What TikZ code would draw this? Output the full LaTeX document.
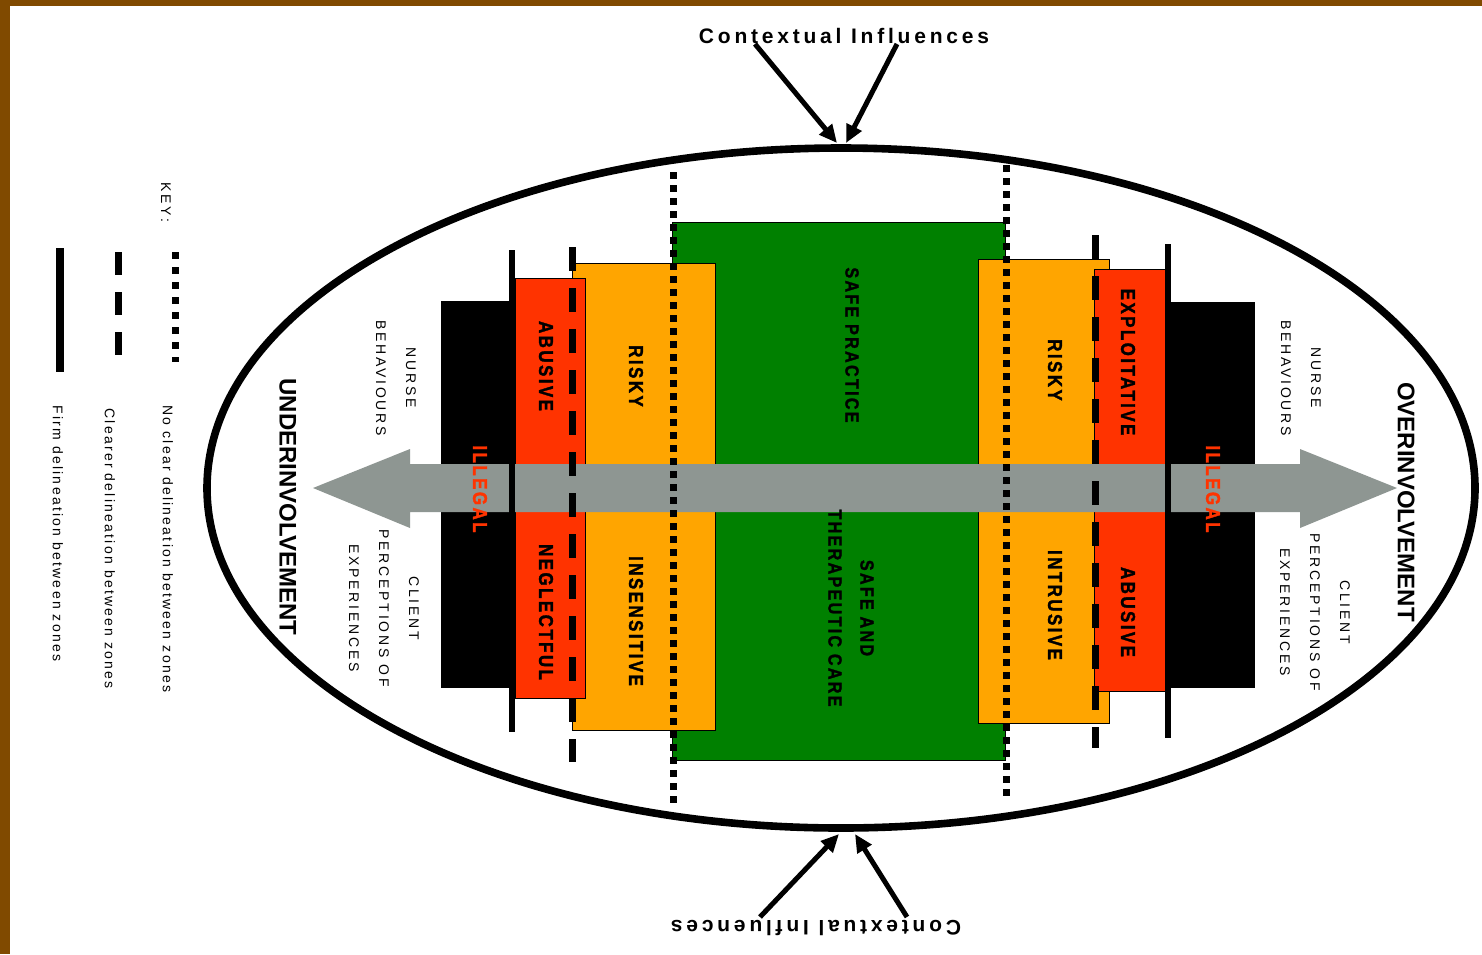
\documentclass[tikz,border=0pt]{standalone}
\usepackage{fontspec}
\setmainfont{Liberation Sans}
\newfontfamily\lsp[LetterSpace=20]{Liberation Sans}
\newfontfamily\keyf[LetterSpace=16]{Liberation Sans}
\newfontfamily\hvy[LetterSpace=12,FakeStretch=0.85,BoldFeatures={FakeBold=1.5}]{Liberation Sans}
\newfontfamily\ctxf[LetterSpace=18]{Liberation Sans}
\usetikzlibrary{arrows.meta}
\definecolor{frame}{RGB}{128,74,0}
\definecolor{zgreen}{RGB}{0,128,0}
\definecolor{zorange}{RGB}{255,165,0}
\definecolor{zred}{RGB}{255,51,0}
\definecolor{zgray}{RGB}{142,150,146}
\tikzset{
  zone/.style={draw=black,line width=0.5pt},
  solidl/.style={line width=3pt},
  dashl/.style={line width=3.5pt,dash pattern=on 12pt off 8.5pt},
  dotl/.style={line width=3.5pt,dash pattern=on 3.5pt off 3pt},
  boxlabel/.style={rotate=-90,inner sep=0pt,align=center,font=\hvy\bfseries\fontsize{10}{16}\selectfont},
  greenlabel/.style={boxlabel,font=\hvy\bfseries\fontsize{9.5}{16}\selectfont},
  side/.style={rotate=-90,inner sep=0pt,align=center,font=\lsp\fontsize{7}{15}\selectfont},
  big/.style={rotate=-90,inner sep=0pt,font=\bfseries\fontsize{12}{14}\selectfont},
  keytext/.style={rotate=-90,inner sep=0pt,anchor=west,font=\keyf\fontsize{7}{8}\selectfont},
  ctx/.style={inner sep=0pt,font=\ctxf\bfseries\fontsize{10.5}{12}\selectfont},
  ctxarrow/.style={line width=2.5pt,-{Triangle[length=9pt,width=8pt]}}
}
\begin{document}
\begin{tikzpicture}[x=0.5pt,y=-0.5pt]
\useasboundingbox (0,0) rectangle (1482,954);
\fill[white] (0,0) rectangle (1482,954);
\fill[frame] (0,0) rectangle (1482,6);
\fill[frame] (0,0) rectangle (10,954);

% zones
\fill[zgreen] (672,222) rectangle (1005,760);
\draw[line width=0.5pt] (672,222) rectangle (1005,760);
\filldraw[zone,fill=zorange] (572,263) rectangle (715,730);
\filldraw[zone,fill=zorange] (978,259) rectangle (1109,723);
\filldraw[zone,fill=zred] (515,278) rectangle (585,698);
\filldraw[zone,fill=zred] (1094,269) rectangle (1165,691);
\fill[black] (441,301) rectangle (513,688);
\fill[black] (1170,302) rectangle (1255,688);

% double arrow
\fill[zgray] (313,488) -- (410,449) -- (410,464) -- (1300,464) -- (1300,449)
  -- (1397,488) -- (1300,528) -- (1300,512) -- (410,512) -- (410,528) -- cycle;

% delineation lines
\draw[solidl] (512,250) -- (512,732);
\draw[dashl] (572,247) -- (572,762);
\draw[dotl] (673,172) -- (673,806);
\draw[dotl] (1006,165) -- (1006,796);
\draw[dashl] (1095,235) -- (1095,748);
\draw[solidl] (1168,244) -- (1168,738);

% ellipse
\draw[line width=3.8pt] (841,488) ellipse [x radius=317pt, y radius=170pt];

% zone labels
\node[boxlabel,text=zred] (ill1) at (480,489) {ILLEGAL};
\node[boxlabel,text=zred] (ill2) at (1213,489) {ILLEGAL};
\node[boxlabel] (ab1) at (546,366) {ABUSIVE};
\node[boxlabel] (neg) at (546,612) {NEGLECTFUL};
\node[boxlabel] (risk1) at (636,376) {RISKY};
\node[boxlabel] (insens) at (636,621) {INSENSITIVE};
\node[greenlabel] (safep) at (852,345) {SAFE PRACTICE};
\node[greenlabel] (safet) at (851,608) {SAFE AND\\THERAPEUTIC CARE};
\node[boxlabel] (risk2) at (1055,370) {RISKY};
\node[boxlabel] (intr) at (1055,605) {INTRUSIVE};
\node[boxlabel] (expl) at (1128,362) {EXPLOITATIVE};
\node[boxlabel] (ab2) at (1128,612) {ABUSIVE};

% side labels
\node[side] (nb1) at (396,378) {NURSE\\BEHAVIOURS};
\node[side] (cp1) at (384,608) {CLIENT\\PERCEPTIONS OF\\EXPERIENCES};
\node[side] (nb2) at (1301,378) {NURSE\\BEHAVIOURS};
\node[side] (cp2) at (1315,612) {CLIENT\\PERCEPTIONS OF\\EXPERIENCES};
\node[big] (under) at (288,507) {UNDERINVOLVEMENT};
\node[big] (over) at (1406,502) {OVERINVOLVEMENT};

% key
\node[side,anchor=west] (key) at (166,182) {KEY:};
\draw[line width=3.5pt,dash pattern=on 3.5pt off 4pt] (175,252) -- (175,362);
\draw[line width=3.5pt,dash pattern=on 11.5pt off 8.5pt] (118,252) -- (118,358);
\draw[line width=4pt] (60,248) -- (60,372);
\node[keytext] (k1) at (168,405) {No clear delineation between zones};
\node[keytext] (k2) at (110,408) {Clearer delineation between zones};
\node[keytext] (k3) at (58,405) {Firm delineation between zones};

% contextual influences
\node[ctx] (ctop) at (844,36) {Contextual Influences};
\node[ctx,rotate=180] (cbot) at (816,928) {Contextual Influences};
\coordinate (ts1) at (755,44);
\coordinate (te1) at (837,143);
\coordinate (ts2) at (897,44);
\coordinate (te2) at (846,143);
\coordinate (bs1) at (760,917);
\coordinate (be1) at (839,834);
\coordinate (bs2) at (907,917);
\coordinate (be2) at (855,834);
\draw[ctxarrow] (ts1) -- (te1);
\draw[ctxarrow] (ts2) -- (te2);
\draw[ctxarrow] (bs1) -- (be1);
\draw[ctxarrow] (bs2) -- (be2);
\end{tikzpicture}
\end{document}
